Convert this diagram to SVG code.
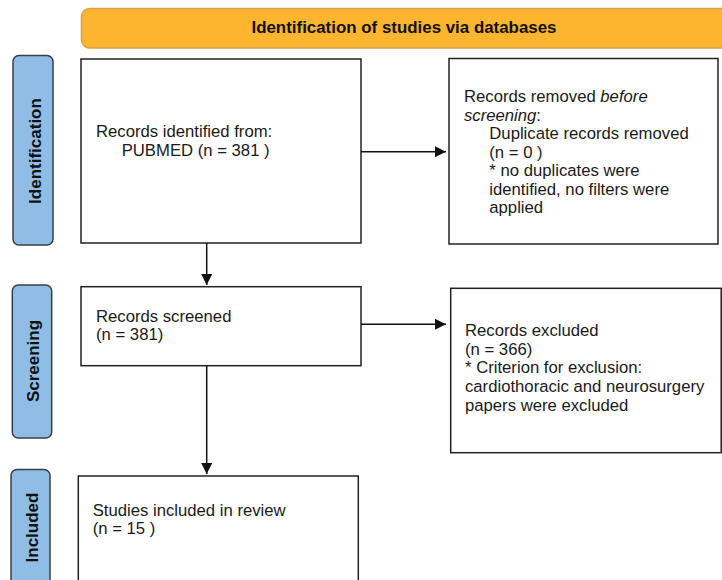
<svg xmlns="http://www.w3.org/2000/svg" width="722" height="580" viewBox="0 0 722 580">
<defs>
<style>
.box{fill:#fff;stroke:#222;stroke-width:1.5}
.side{fill:#8fbde6;stroke:#3a3f47;stroke-width:1.5}
.t{font-family:"Liberation Sans",Arial,sans-serif;font-size:16.7px;fill:#1a1a1a}
.st{font-family:"Liberation Sans",Arial,sans-serif;font-size:17px;font-weight:bold;fill:#111;text-anchor:middle}
.ln{stroke:#111;stroke-width:1.5;fill:none}
</style>
<marker id="ah" viewBox="0 0 10 10" refX="10" refY="5" markerWidth="11" markerHeight="11" markerUnits="userSpaceOnUse" orient="auto">
<path d="M0,0 L10,5 L0,10 z" fill="#111"/>
</marker>
</defs>
<rect width="722" height="580" fill="#fff"/>
<g id="banner">
<rect x="81.5" y="8.5" width="650" height="39.5" rx="8" fill="#fdb52f" stroke="#d4a24c" stroke-width="1.5"/>
<text x="404" y="33" class="st" style="font-size:16.9px">Identification of studies via databases</text>
</g>
<g id="label-identification">
<rect x="13" y="55.5" width="40" height="189.5" rx="6" class="side"/>
<text class="st" transform="translate(41,151) rotate(-90)">Identification</text>
</g>
<g id="label-screening">
<rect x="12.3" y="285" width="39.4" height="153" rx="6" class="side"/>
<text class="st" transform="translate(39,361) rotate(-90)">Screening</text>
</g>
<g id="label-included">
<rect x="11" y="469.5" width="39" height="130" rx="6" class="side"/>
<text class="st" transform="translate(38,527.5) rotate(-90)">Included</text>
</g>
<g id="box-identified">
<rect x="81" y="59" width="280" height="184" class="box"/>
<text class="t" x="96" y="137.3">Records identified from:</text>
<text class="t" x="121.7" y="156">PUBMED (n = 381 )</text>
</g>
<g id="box-removed">
<rect x="449" y="58.5" width="269" height="185.5" class="box"/>
<text class="t" x="464" y="102.3">Records removed <tspan font-style="italic">before</tspan></text>
<text class="t" x="464" y="120.8"><tspan font-style="italic">screening</tspan>:</text>
<text class="t" x="489.3" y="139.3">Duplicate records removed</text>
<text class="t" x="489.3" y="157.8">(n = 0 )</text>
<text class="t" x="489.3" y="176.3">* no duplicates were</text>
<text class="t" x="489.3" y="194.8">identified, no filters were</text>
<text class="t" x="489.3" y="213.3">applied</text>
</g>
<g id="box-screened">
<rect x="81" y="286.7" width="280" height="79" class="box"/>
<text class="t" x="96" y="321.7">Records screened</text>
<text class="t" x="96" y="340">(n = 381)</text>
</g>
<g id="box-excluded">
<rect x="450.7" y="288.3" width="270.5" height="164.4" class="box"/>
<text class="t" x="465" y="336">Records excluded</text>
<text class="t" x="465" y="354.7">(n = 366)</text>
<text class="t" x="465" y="373.4">* Criterion for exclusion:</text>
<text class="t" x="465" y="392.1">cardiothoracic and neurosurgery</text>
<text class="t" x="465" y="410.8">papers were excluded</text>
</g>
<g id="box-included">
<rect x="78.3" y="476" width="280" height="120" class="box"/>
<text class="t" x="92.7" y="516">Studies included in review</text>
<text class="t" x="92.7" y="534.3">(n = 15 )</text>
</g>
<g id="connectors">
<line x1="361" y1="151.7" x2="446" y2="151.7" class="ln" marker-end="url(#ah)"/>
<line x1="206.7" y1="243" x2="206.7" y2="285" class="ln" marker-end="url(#ah)"/>
<line x1="361" y1="324.3" x2="446" y2="324.3" class="ln" marker-end="url(#ah)"/>
<line x1="206.7" y1="365.7" x2="206.7" y2="474" class="ln" marker-end="url(#ah)"/>
</g>
</svg>
